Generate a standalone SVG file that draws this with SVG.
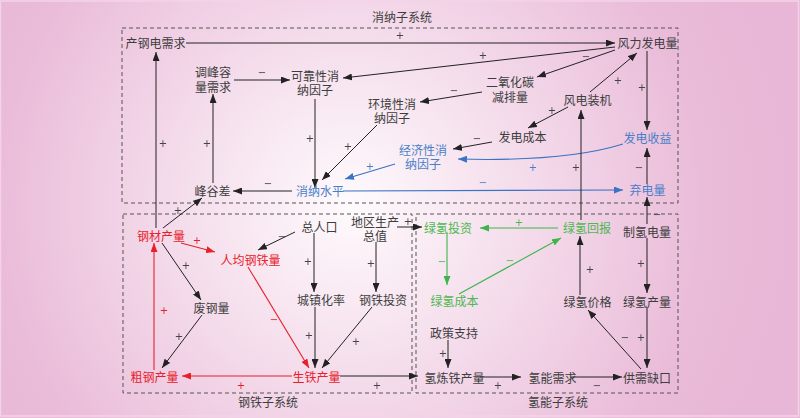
<svg xmlns="http://www.w3.org/2000/svg" width="800" height="418" viewBox="0 0 800 418">
<defs>
<radialGradient id="bg" gradientUnits="userSpaceOnUse" cx="350" cy="205" r="440">
<stop offset="0" stop-color="#fefafc"/>
<stop offset="0.45" stop-color="#f3d8e9"/>
<stop offset="0.8" stop-color="#eabcd9"/>
<stop offset="1" stop-color="#e8b6d6"/>
</radialGradient>
<filter id="flat" x="0" y="0" width="1" height="1"><feOffset dx="0" dy="0"/></filter>
<marker id="ak" markerUnits="userSpaceOnUse" markerWidth="9" markerHeight="7" refX="9" refY="3.5" orient="auto"><path d="M0,0 L9,3.5 L0,7 z" fill="#222"/></marker>
<marker id="ar" markerUnits="userSpaceOnUse" markerWidth="9" markerHeight="7" refX="9" refY="3.5" orient="auto"><path d="M0,0 L9,3.5 L0,7 z" fill="#e8202a"/></marker>
<marker id="ab" markerUnits="userSpaceOnUse" markerWidth="9" markerHeight="7" refX="9" refY="3.5" orient="auto"><path d="M0,0 L9,3.5 L0,7 z" fill="#3a72c4"/></marker>
<marker id="ag" markerUnits="userSpaceOnUse" markerWidth="9" markerHeight="7" refX="9" refY="3.5" orient="auto"><path d="M0,0 L9,3.5 L0,7 z" fill="#3db54a"/></marker>
</defs>
<style>
text{font-family:"Noto Sans CJK SC","Noto Sans CJK JP",sans-serif;font-size:12px;fill:#3d3d3d;text-anchor:middle}
.r{fill:#e8202a}.b{fill:#4a7fc8}.g{fill:#4cb850}
.s{font-family:"DejaVu Sans","Liberation Sans",sans-serif;font-size:10px;fill:#444}
.s.r{fill:#e8202a}.s.b{fill:#4a7fc8}.s.g{fill:#4cb850}
.box{fill:none;stroke:#555;stroke-width:1;stroke-dasharray:4,3}
.k{fill:none;stroke:#222;stroke-width:1;marker-end:url(#ak)}
.lr{fill:none;stroke:#e8202a;stroke-width:1.1;marker-end:url(#ar)}
.lb{fill:none;stroke:#3a72c4;stroke-width:1.1;marker-end:url(#ab)}
.lg{fill:none;stroke:#3db54a;stroke-width:1.1;marker-end:url(#ag)}
</style>
<rect x="0" y="0" width="800" height="418" fill="url(#bg)"/>
<rect x="0.5" y="1" width="798" height="415" fill="none" stroke="#f4d3e7" stroke-width="1.5"/>

<g id="subsystems">
<rect class="box" x="122" y="28" width="556" height="175"/>
<rect class="box" x="123" y="214" width="289" height="179"/>
<rect class="box" x="416" y="214" width="262" height="179"/>
<text x="402" y="21.5">消纳子系统</text>
<text x="268" y="406.5">钢铁子系统</text>
<text x="558" y="406.5">氢能子系统</text>
</g>

<g id="connectors">
<path class="k" d="M186,43 L615,43"/>
<path class="k" d="M615,47 L343,78"/>
<path class="k" d="M615,50 L537,77"/>
<path class="k" d="M590,92 L637,53"/>
<path class="k" d="M647,51 L647,130"/>
<path class="k" d="M234,80 L290,80"/>
<path class="k" d="M482,92 L420,102"/>
<path class="k" d="M315,99 L315,188"/>
<path class="k" d="M377,125 L322,180"/>
<path class="k" d="M568,107 L528,128"/>
<path class="k" d="M492,142 L453,149"/>
<path class="lb" d="M623,144 Q565,162 458,159"/>
<path class="lb" d="M395,164 L345,179"/>
<path class="k" d="M292,191 L233,191"/>
<path class="k" d="M213,183 L213,94"/>
<path class="lb" d="M343,191 L623,190"/>
<path class="k" d="M647,184 L647,148"/>
<path class="k" d="M647,224 L647,197"/>
<path class="k" d="M581,220 L581,110"/>
<path class="k" d="M156,228 L156,52"/>
<path class="k" d="M163,228 L202,198"/>
<path class="lr" d="M181,243 L215,252"/>
<path class="k" d="M295,232 L258,250"/>
<path class="k" d="M397,227 L422,227"/>
<path class="k" d="M314,233 L314,292"/>
<path class="k" d="M376,242 L376,292"/>
<path class="k" d="M162,243 L201,300"/>
<path class="k" d="M202,315 L162,368"/>
<path class="lr" d="M154,370 L154,243"/>
<path class="lr" d="M248,267 L309,368"/>
<path class="k" d="M315,307 L315,368"/>
<path class="k" d="M372,307 L322,368"/>
<path class="lr" d="M292,376 L182,376"/>
<path class="k" d="M340,376 L418,376"/>
<path class="lg" d="M558,228 L480,228"/>
<path class="lg" d="M447,233 L447,285"/>
<path class="lg" d="M459,294 L561,238"/>
<path class="k" d="M647,238 L647,293"/>
<path class="k" d="M580,295 L580,236"/>
<path class="k" d="M647,307 L647,368"/>
<path class="k" d="M641,369 L588,310"/>
<path class="k" d="M448,340 L448,368"/>
<path class="k" d="M480,377 L521,377"/>
<path class="k" d="M572,377 L622,377"/>
</g>

<g id="polarity" filter="url(#flat)">
<text class="s" x="400" y="39">+</text>
<text class="s" x="483" y="59">+</text>
<text class="s" x="586" y="60">−</text>
<text class="s" x="618" y="84">+</text>
<text class="s" x="642" y="91">+</text>
<text class="s" x="262" y="76">−</text>
<text class="s" x="454" y="94">−</text>
<text class="s" x="310" y="142">+</text>
<text class="s" x="348" y="150">+</text>
<text class="s" x="552" y="114">+</text>
<text class="s" x="477" y="142">−</text>
<text class="s b" x="533" y="171">+</text>
<text class="s b" x="370" y="170">+</text>
<text class="s" x="268" y="187">−</text>
<text class="s" x="207" y="147">+</text>
<text class="s b" x="483" y="186">−</text>
<text class="s" x="639" y="171">−</text>
<text class="s" x="657" y="218">−</text>
<text class="s" x="576" y="171">+</text>
<text class="s" x="163" y="147">+</text>
<text class="s" x="178" y="214">+</text>
<text class="s r" x="197" y="244">+</text>
<text class="s" x="282" y="240">−</text>
<text class="s" x="408" y="225">+</text>
<text class="s" x="308" y="265">+</text>
<text class="s" x="371" y="267">+</text>
<text class="s" x="186" y="269">+</text>
<text class="s" x="179" y="340">+</text>
<text class="s r" x="164" y="314">+</text>
<text class="s r" x="274" y="323">−</text>
<text class="s" x="309" y="339">+</text>
<text class="s" x="356" y="345">+</text>
<text class="s r" x="241" y="389">+</text>
<text class="s" x="377" y="389">+</text>
<text class="s g" x="519" y="226">+</text>
<text class="s g" x="442" y="265">−</text>
<text class="s g" x="510" y="264">−</text>
<text class="s" x="641" y="267">+</text>
<text class="s" x="590" y="273">+</text>
<text class="s" x="641" y="341">+</text>
<text class="s" x="625" y="341">−</text>
<text class="s" x="443" y="357">+</text>
<text class="s" x="498" y="389">+</text>
<text class="s" x="597" y="389">−</text>
</g>

<g id="n-cgdxq"><text x="155.5" y="47.5">产钢电需求</text></g>
<g id="n-flfdl"><text x="647.5" y="47.5">风力发电量</text></g>
<g id="n-tfrl"><text x="213" y="76.5">调峰容<tspan x="213" dy="15">量需求</tspan></text></g>
<g id="n-kkx"><text x="315" y="80.5">可靠性消<tspan x="315" dy="14">纳因子</tspan></text></g>
<g id="n-eyht"><text x="510" y="86.5">二氧化碳<tspan x="510" dy="15">减排量</tspan></text></g>
<g id="n-hjx"><text x="392" y="108.5">环境性消<tspan x="392" dy="14">纳因子</tspan></text></g>
<g id="n-fdzj"><text x="587.5" y="104.5">风电装机</text></g>
<g id="n-fdcb"><text x="522.5" y="141.5">发电成本</text></g>
<g id="n-jjx"><text class="b" x="423" y="154.5">经济性消<tspan x="423" dy="14">纳因子</tspan></text></g>
<g id="n-fdsy"><text class="b" x="647.5" y="142.5">发电收益</text></g>
<g id="n-xnsp"><text class="b" x="320" y="195.5">消纳水平</text></g>
<g id="n-fgc"><text x="212.5" y="195.5">峰谷差</text></g>
<g id="n-qdl"><text class="b" x="647.5" y="194.5">弃电量</text></g>
<g id="n-gccl"><text class="r" x="161" y="240.5">钢材产量</text></g>
<g id="n-rjgtl"><text class="r" x="250.5" y="264.5">人均钢铁量</text></g>
<g id="n-zrk"><text x="319.5" y="231.5">总人口</text></g>
<g id="n-dqsczz"><text x="375" y="226.5">地区生产<tspan x="375" dy="14">总值</tspan></text></g>
<g id="n-czhl"><text x="321" y="304.5">城镇化率</text></g>
<g id="n-gttz"><text x="383" y="304.5">钢铁投资</text></g>
<g id="n-fgl"><text x="211.5" y="312.5">废钢量</text></g>
<g id="n-cgcl"><text class="r" x="154.5" y="381.5">粗钢产量</text></g>
<g id="n-stcl"><text class="r" x="316.5" y="381.5">生铁产量</text></g>
<g id="n-lqtz"><text class="g" x="448" y="232.5">绿氢投资</text></g>
<g id="n-lqhb"><text class="g" x="587" y="232.5">绿氢回报</text></g>
<g id="n-zqdl"><text x="647" y="236.5">制氢电量</text></g>
<g id="n-lqcb"><text class="g" x="454.5" y="305.5">绿氢成本</text></g>
<g id="n-lqjg"><text x="587.5" y="306.5">绿氢价格</text></g>
<g id="n-lqcl"><text x="647" y="306.5">绿氢产量</text></g>
<g id="n-zczc"><text x="454" y="337.5">政策支持</text></g>
<g id="n-qltcl"><text x="454.5" y="382.5">氢炼铁产量</text></g>
<g id="n-qnxq"><text x="552.5" y="382.5">氢能需求</text></g>
<g id="n-gxqk"><text x="647" y="382.5">供需缺口</text></g>
</svg>
